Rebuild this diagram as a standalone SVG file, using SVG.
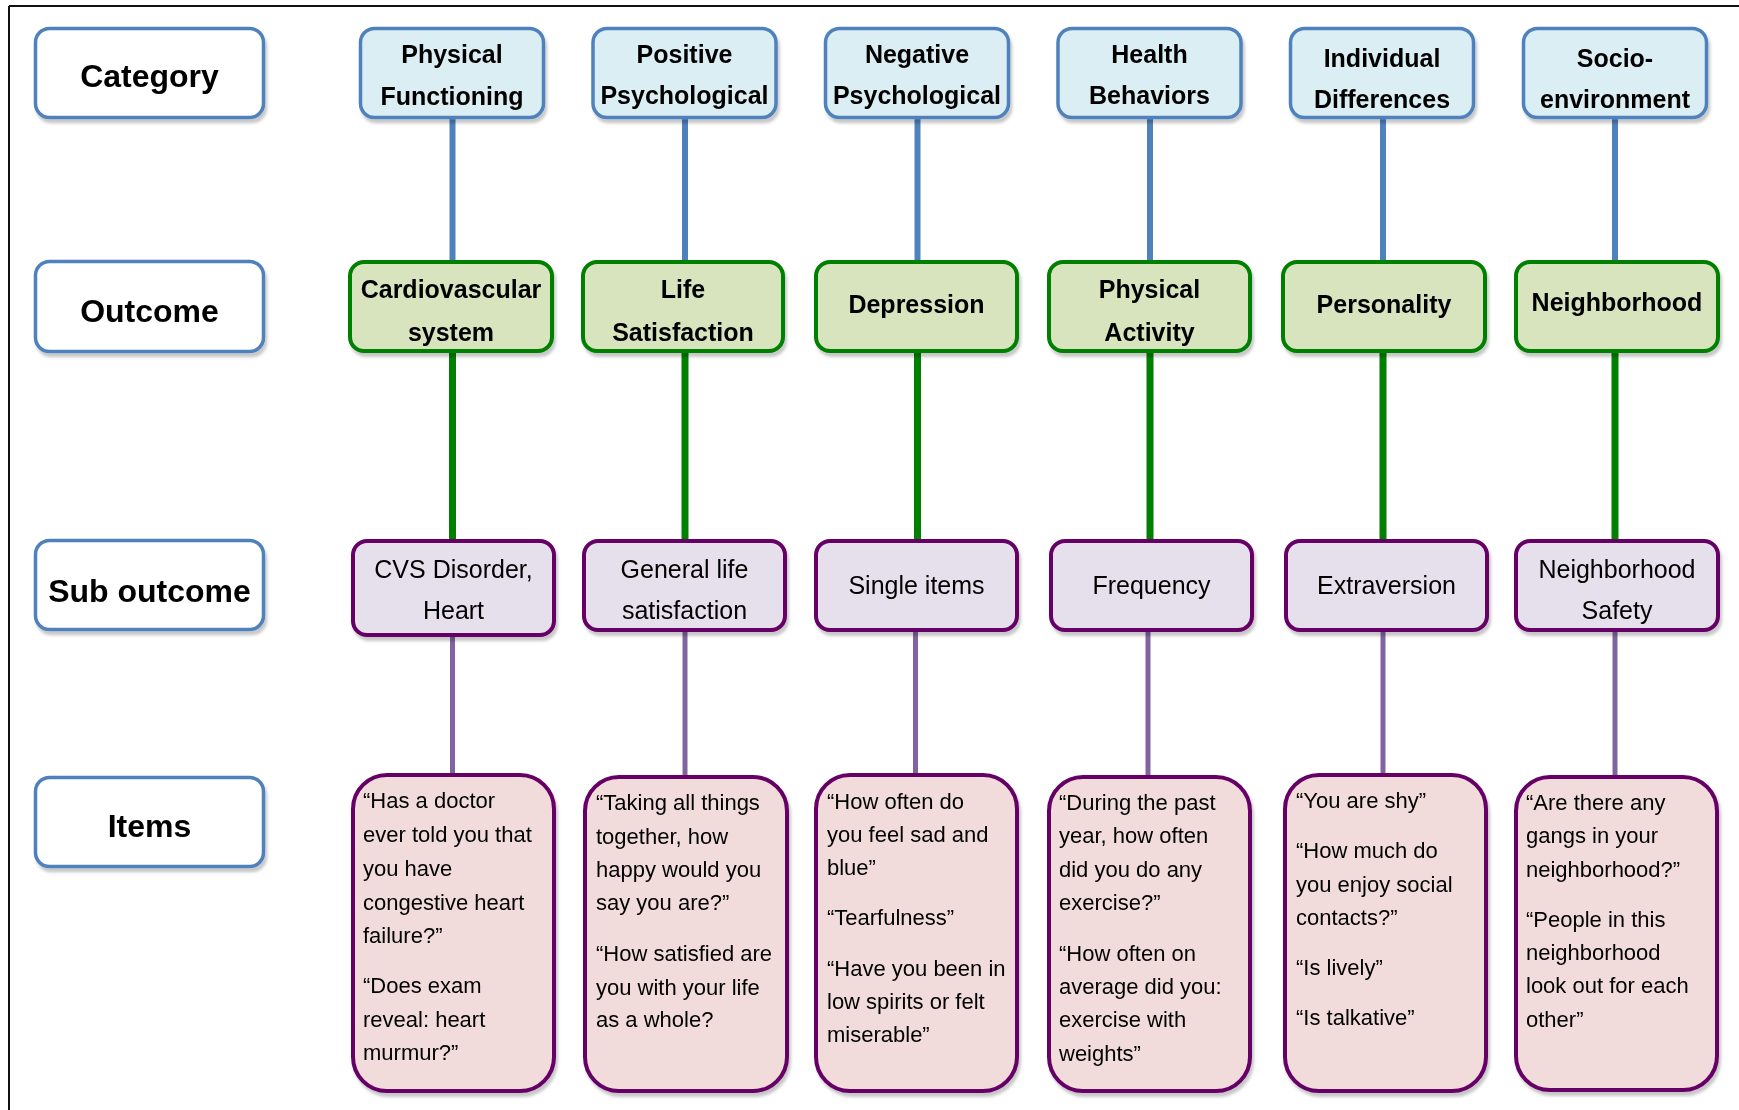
<svg xmlns="http://www.w3.org/2000/svg" width="1739" height="1110" viewBox="0 0 1739 1110">
<defs>
<filter id="sh" x="-10%" y="-10%" width="125%" height="130%">
<feDropShadow dx="2" dy="4" stdDeviation="1.5" flood-color="#000" flood-opacity="0.22"/>
</filter>
<style>
.lbl{fill:#fff;stroke:#4F81BD;stroke-width:3.5}
.cat{fill:#DBEEF4;stroke:#4F81BD;stroke-width:3.5}
.out{fill:#D7E4BD;stroke:#008000;stroke-width:4}
.sub{fill:#E5E0EC;stroke:#660066;stroke-width:4}
.itm{fill:#F2DCDB;stroke:#660066;stroke-width:4}
.box{filter:url(#sh)}
.tl{font-family:"Liberation Sans",Arial,sans-serif;font-weight:bold;font-size:32px;fill:#000;text-anchor:middle}
.th{font-family:"Liberation Sans",Arial,sans-serif;font-weight:bold;font-size:25px;fill:#000;text-anchor:middle}
.ts{font-family:"Liberation Sans",Arial,sans-serif;font-size:25px;fill:#000;text-anchor:middle}
.ti{font-family:"Liberation Sans",Arial,sans-serif;font-size:22px;fill:#000}
.cb{stroke:#4F81BD;stroke-width:6}
.cg{stroke:#008000;stroke-width:7}
.cp{stroke:#8064A2;stroke-width:5}
</style>
</defs>
<rect x="0" y="0" width="1739" height="1110" fill="#fff"/>
<g id="frame" stroke="#111" stroke-width="2" fill="none">
<line x1="9" y1="6" x2="1739" y2="6"/>
<line x1="9" y1="6" x2="9" y2="1110"/>
</g>

<g id="connectors">
<line class="cb" x1="452.5" y1="119" x2="452.5" y2="261"/>
<line class="cb" x1="685" y1="119" x2="685" y2="261"/>
<line class="cb" x1="917.5" y1="119" x2="917.5" y2="261"/>
<line class="cb" x1="1150" y1="119" x2="1150" y2="261"/>
<line class="cb" x1="1383" y1="119" x2="1383" y2="261"/>
<line class="cb" x1="1615" y1="119" x2="1615" y2="261"/>
<line class="cg" x1="452.5" y1="352" x2="452.5" y2="540"/>
<line class="cg" x1="685" y1="352" x2="685" y2="540"/>
<line class="cg" x1="917.5" y1="352" x2="917.5" y2="540"/>
<line class="cg" x1="1150" y1="352" x2="1150" y2="540"/>
<line class="cg" x1="1383" y1="352" x2="1383" y2="540"/>
<line class="cg" x1="1615" y1="352" x2="1615" y2="540"/>
<line class="cp" x1="452.5" y1="635" x2="452.5" y2="776"/>
<line class="cp" x1="685" y1="632" x2="685" y2="777"/>
<line class="cp" x1="915.5" y1="632" x2="915.5" y2="776"/>
<line class="cp" x1="1148" y1="632" x2="1148" y2="777"/>
<line class="cp" x1="1383" y1="632" x2="1383" y2="776"/>
<line class="cp" x1="1615" y1="632" x2="1615" y2="777"/>
</g>

<g id="label-category" class="box"><rect class="lbl" x="35.5" y="28.5" width="228" height="89" rx="14"/><text class="tl" x="149.5" y="87">Category</text></g>
<g id="label-outcome" class="box"><rect class="lbl" x="35.5" y="261.5" width="228" height="90" rx="14"/><text class="tl" x="149.5" y="322">Outcome</text></g>
<g id="label-suboutcome" class="box"><rect class="lbl" x="35.5" y="540.5" width="228" height="89" rx="14"/><text class="tl" x="149.5" y="602">Sub outcome</text></g>
<g id="label-items" class="box"><rect class="lbl" x="35.5" y="777.5" width="228" height="89" rx="14"/><text class="tl" x="149.5" y="837">Items</text></g>

<g id="cat-physical" class="box"><rect class="cat" x="360.5" y="28.5" width="183" height="89" rx="14"/><text class="th" x="452" y="63">Physical</text><text class="th" x="452" y="105">Functioning</text></g>
<g id="cat-positive" class="box"><rect class="cat" x="593" y="28.5" width="183" height="89" rx="14"/><text class="th" x="684.5" y="63">Positive</text><text class="th" x="684.5" y="104">Psychological</text></g>
<g id="cat-negative" class="box"><rect class="cat" x="825.5" y="28.5" width="183" height="89" rx="14"/><text class="th" x="917" y="63">Negative</text><text class="th" x="917" y="104">Psychological</text></g>
<g id="cat-health" class="box"><rect class="cat" x="1058" y="28.5" width="183" height="89" rx="14"/><text class="th" x="1149.5" y="63">Health</text><text class="th" x="1149.5" y="104">Behaviors</text></g>
<g id="cat-individual" class="box"><rect class="cat" x="1290.5" y="28.5" width="183" height="89" rx="14"/><text class="th" x="1382" y="67">Individual</text><text class="th" x="1382" y="108">Differences</text></g>
<g id="cat-socio" class="box"><rect class="cat" x="1523.5" y="28.5" width="183" height="89" rx="14"/><text class="th" x="1615" y="67">Socio-</text><text class="th" x="1615" y="108">environment</text></g>

<g id="out-cardio" class="box"><rect class="out" x="350" y="262" width="202" height="89" rx="14"/><text class="th" x="451" y="298">Cardiovascular</text><text class="th" x="451" y="341">system</text></g>
<g id="out-life" class="box"><rect class="out" x="583" y="262" width="200" height="89" rx="14"/><text class="th" x="683" y="298">Life</text><text class="th" x="683" y="341">Satisfaction</text></g>
<g id="out-depression" class="box"><rect class="out" x="816" y="262" width="201" height="89" rx="14"/><text class="th" x="916.5" y="313">Depression</text></g>
<g id="out-physical" class="box"><rect class="out" x="1049" y="262" width="201" height="89" rx="14"/><text class="th" x="1149.5" y="298">Physical</text><text class="th" x="1149.5" y="341">Activity</text></g>
<g id="out-personality" class="box"><rect class="out" x="1283" y="262" width="202" height="89" rx="14"/><text class="th" x="1384" y="313">Personality</text></g>
<g id="out-neighborhood" class="box"><rect class="out" x="1516" y="262" width="202" height="89" rx="14"/><text class="th" x="1617" y="311">Neighborhood</text></g>

<g id="sub-cvs" class="box"><rect class="sub" x="353" y="541" width="201" height="94" rx="14"/><text class="ts" x="453.5" y="578">CVS Disorder,</text><text class="ts" x="453.5" y="619">Heart</text></g>
<g id="sub-general" class="box"><rect class="sub" x="584" y="541" width="201" height="89" rx="14"/><text class="ts" x="684.5" y="578">General life</text><text class="ts" x="684.5" y="619">satisfaction</text></g>
<g id="sub-single" class="box"><rect class="sub" x="816" y="541" width="201" height="89" rx="14"/><text class="ts" x="916.5" y="594">Single items</text></g>
<g id="sub-frequency" class="box"><rect class="sub" x="1051" y="541" width="201" height="89" rx="14"/><text class="ts" x="1151.5" y="594">Frequency</text></g>
<g id="sub-extraversion" class="box"><rect class="sub" x="1286" y="541" width="201" height="89" rx="14"/><text class="ts" x="1386.5" y="594">Extraversion</text></g>
<g id="sub-safety" class="box"><rect class="sub" x="1516" y="541" width="202" height="89" rx="14"/><text class="ts" x="1617" y="578">Neighborhood</text><text class="ts" x="1617" y="619">Safety</text></g>

<g id="items-cvs" class="box"><rect class="itm" x="353" y="775" width="201" height="316" rx="34"/>
<text class="ti"><tspan x="363" y="808">“Has a doctor</tspan><tspan x="363" y="842">ever told you that</tspan><tspan x="363" y="876">you have</tspan><tspan x="363" y="910">congestive heart</tspan><tspan x="363" y="943">failure?”</tspan><tspan x="363" y="993">“Does exam</tspan><tspan x="363" y="1027">reveal: heart</tspan><tspan x="363" y="1060">murmur?”</tspan></text></g>
<g id="items-life" class="box"><rect class="itm" x="585" y="777" width="202" height="314" rx="34"/>
<text class="ti"><tspan x="596" y="810">“Taking all things</tspan><tspan x="596" y="844">together, how</tspan><tspan x="596" y="877">happy would you</tspan><tspan x="596" y="910">say you are?”</tspan><tspan x="596" y="961">“How satisfied are</tspan><tspan x="596" y="995">you with your life</tspan><tspan x="596" y="1027">as a whole?</tspan></text></g>
<g id="items-depression" class="box"><rect class="itm" x="816" y="775" width="201" height="316" rx="34"/>
<text class="ti"><tspan x="827" y="809">“How often do</tspan><tspan x="827" y="842">you feel sad and</tspan><tspan x="827" y="875">blue”</tspan><tspan x="827" y="925">“Tearfulness”</tspan><tspan x="827" y="976">“Have you been in</tspan><tspan x="827" y="1009">low spirits or felt</tspan><tspan x="827" y="1042">miserable”</tspan></text></g>
<g id="items-physical" class="box"><rect class="itm" x="1049" y="777" width="201" height="314" rx="34"/>
<text class="ti"><tspan x="1059" y="810">“During the past</tspan><tspan x="1059" y="843">year, how often</tspan><tspan x="1059" y="877">did you do any</tspan><tspan x="1059" y="910">exercise?”</tspan><tspan x="1059" y="961">“How often on</tspan><tspan x="1059" y="994">average did you:</tspan><tspan x="1059" y="1027">exercise with</tspan><tspan x="1059" y="1061">weights”</tspan></text></g>
<g id="items-extraversion" class="box"><rect class="itm" x="1285" y="775" width="201" height="316" rx="34"/>
<text class="ti"><tspan x="1296" y="808">“You are shy”</tspan><tspan x="1296" y="858">“How much do</tspan><tspan x="1296" y="892">you enjoy social</tspan><tspan x="1296" y="925">contacts?”</tspan><tspan x="1296" y="975">“Is lively”</tspan><tspan x="1296" y="1025">“Is talkative”</tspan></text></g>
<g id="items-neighborhood" class="box"><rect class="itm" x="1516" y="777" width="201" height="313" rx="34"/>
<text class="ti"><tspan x="1526" y="810">“Are there any</tspan><tspan x="1526" y="843">gangs in your</tspan><tspan x="1526" y="877">neighborhood?”</tspan><tspan x="1526" y="927">“People in this</tspan><tspan x="1526" y="960">neighborhood</tspan><tspan x="1526" y="993">look out for each</tspan><tspan x="1526" y="1027">other”</tspan></text></g>
</svg>
